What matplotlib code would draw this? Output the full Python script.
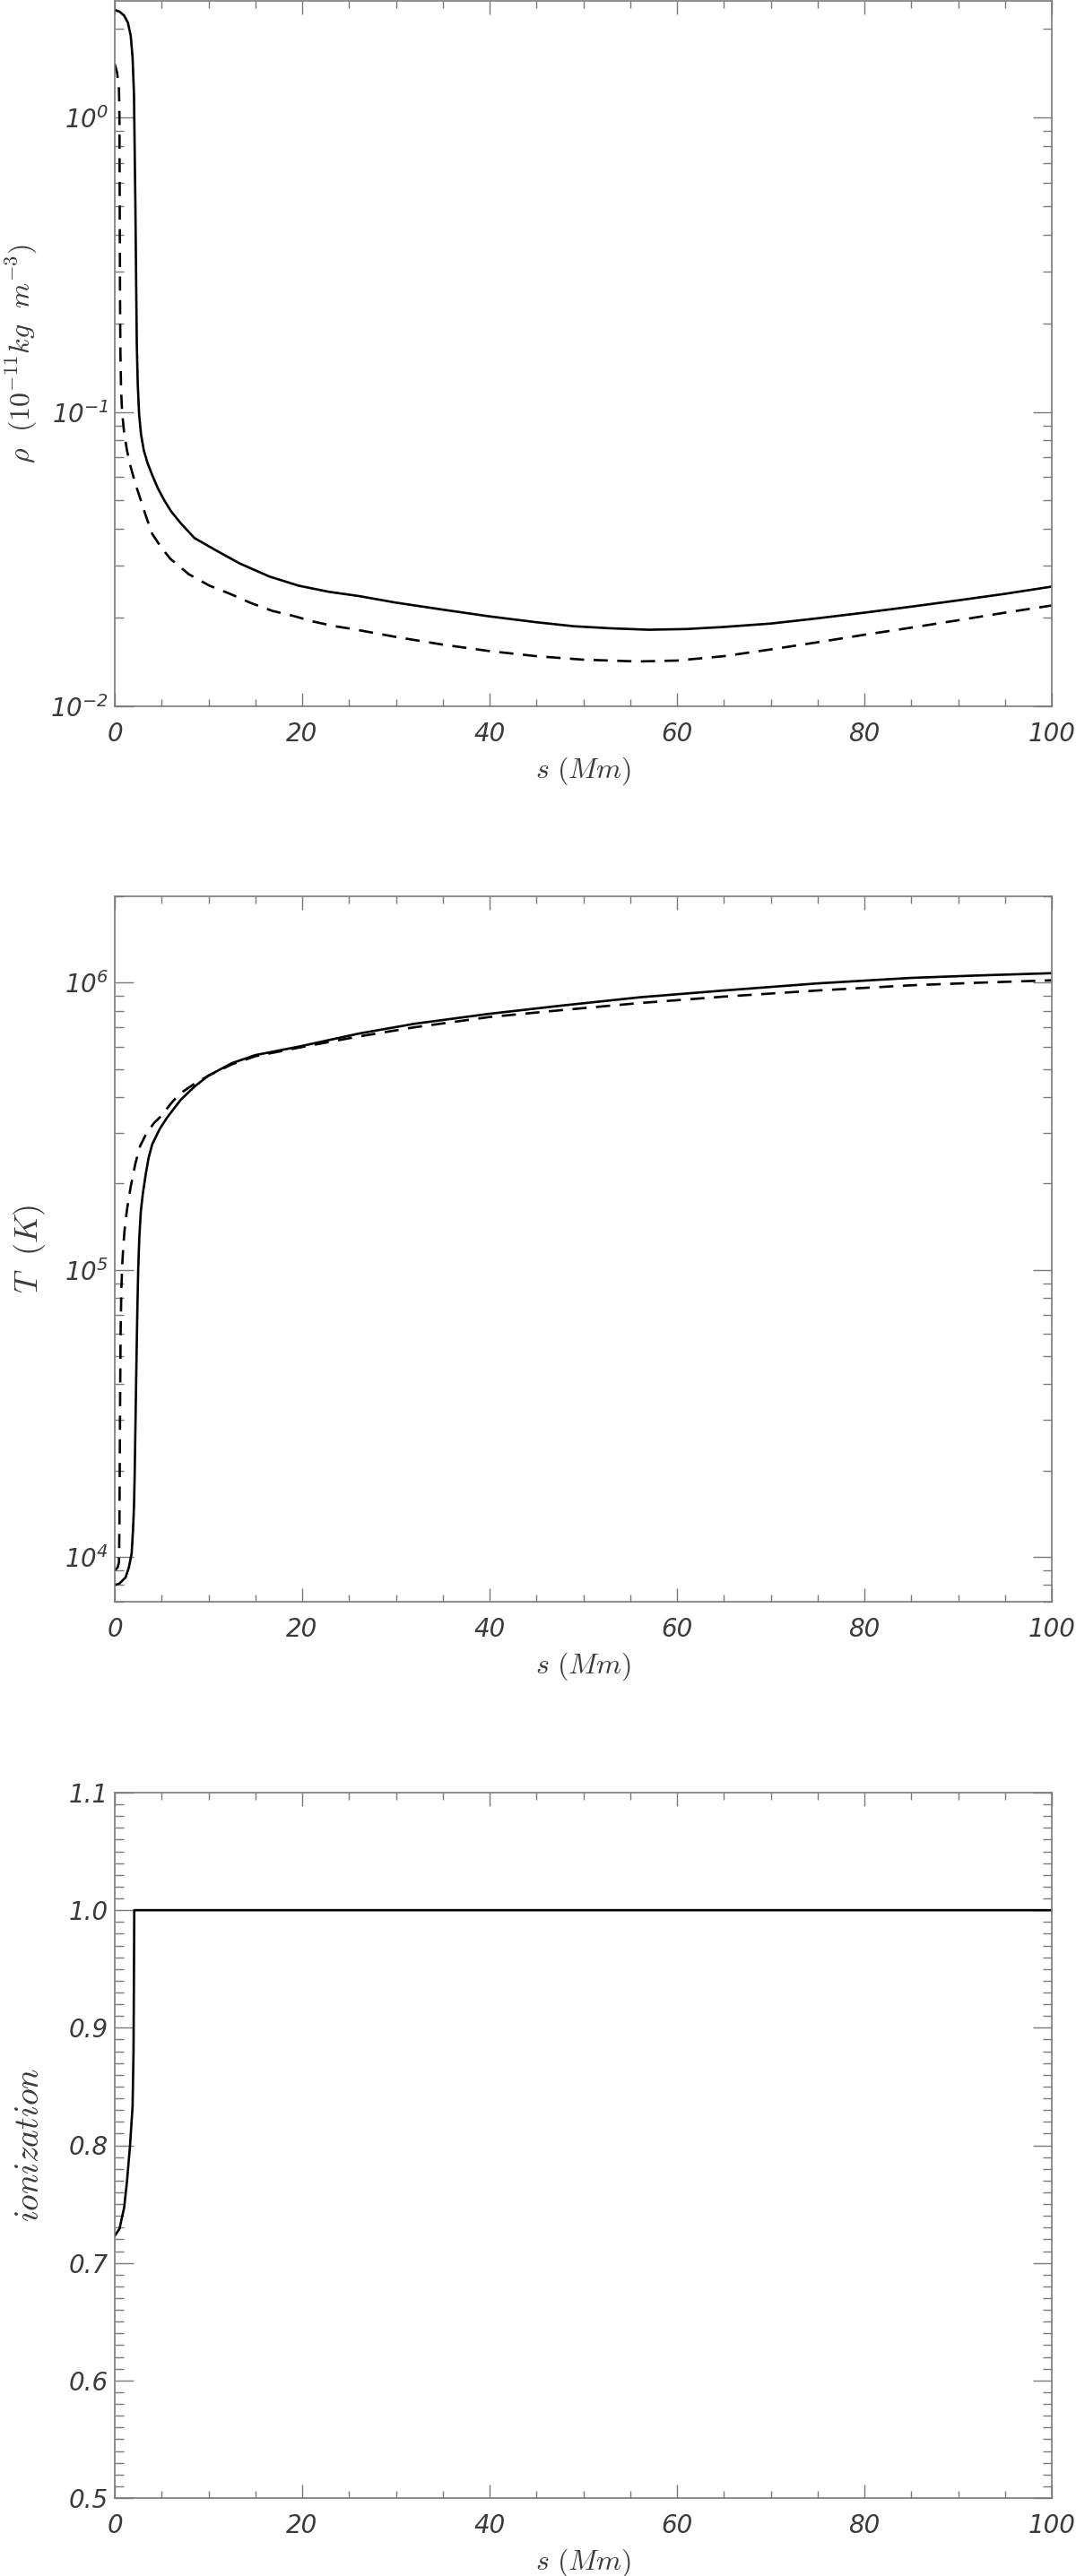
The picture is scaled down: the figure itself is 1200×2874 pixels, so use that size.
import matplotlib
matplotlib.use("Agg")
import matplotlib.pyplot as plt
from matplotlib.ticker import MultipleLocator, LogLocator, NullFormatter, FixedLocator

TICK_FONT = 'DejaVu Sans'
plt.rcParams['mathtext.fontset'] = 'custom'
plt.rcParams['mathtext.rm'] = 'DejaVu Sans:italic'
plt.rcParams['mathtext.it'] = 'DejaVu Sans:italic'
plt.rcParams['mathtext.default'] = 'it'

# ---------------- data ----------------
# density (1e-11 kg m^-3), solid
s_rho_solid = [0, 0.5, 1.0, 1.4, 1.7, 1.9, 2.05, 2.12, 2.2, 2.27, 2.35, 2.45, 2.6, 2.8, 3.1,
               3.5, 4.0, 4.6, 5.3, 6.0, 7.0, 8.5, 10.7, 13.3, 16.5, 19.6, 22.8, 26, 30, 35,
               40, 45, 49, 53, 57, 61, 65, 70, 75, 80, 85, 90, 95, 100]
rho_solid = [2.32, 2.29, 2.22, 2.1, 1.9, 1.6, 1.2, 0.8, 0.5, 0.3, 0.17, 0.125, 0.098, 0.084,
             0.074, 0.067, 0.061, 0.055, 0.050, 0.046, 0.042, 0.0373, 0.034, 0.0306, 0.0276,
             0.0257, 0.0245, 0.0237, 0.0225, 0.0213, 0.0202, 0.0193, 0.0187, 0.0184, 0.0182,
             0.0183, 0.0186, 0.0191, 0.0199, 0.0208, 0.0218, 0.0229, 0.0241, 0.0255]
# density, dashed
s_rho_dashed = [0, 0.25, 0.45, 0.5, 0.53, 0.56, 0.6, 0.67, 0.78, 1.0, 1.3, 1.7, 2.2, 2.7,
                3.3, 4.0, 5.0, 5.93, 7.9, 10.1, 12.3, 14.5, 16.8, 19.0, 21.2, 23.3, 25.4, 30,
                35, 40, 45, 50, 55.8, 60, 65, 70, 75, 80, 85, 90, 95, 100]
rho_dashed = [1.52, 1.42, 1.25, 1.0, 0.5, 0.25, 0.16, 0.12, 0.1, 0.085, 0.074, 0.065, 0.057,
              0.051, 0.0445, 0.0385, 0.0345, 0.0317, 0.0281, 0.0257, 0.0241, 0.02245, 0.0211,
              0.0203, 0.0194, 0.01875, 0.0183, 0.0172, 0.0162, 0.0154, 0.0148, 0.0144, 0.0142,
              0.0143, 0.0148, 0.0156, 0.0165, 0.0175, 0.0185, 0.0196, 0.0208, 0.0220]

# temperature (K), solid
s_T_solid = [0, 0.5, 1.15, 1.5, 1.8, 1.95, 2.05, 2.12, 2.2, 2.3, 2.4, 2.5, 2.62, 2.78, 3.0,
             3.3, 3.6, 4.0, 4.8, 5.6, 7, 8.5, 10, 12.5, 15, 19.7, 26, 32, 40, 48, 56, 65, 75,
             85, 92, 100]
T_solid = [8.0e3, 8.1e3, 8.5e3, 9.2e3, 1.03e4, 1.25e4, 1.5e4, 1.9e4, 2.8e4, 4.5e4, 7e4,
           1.0e5, 1.3e5, 1.6e5, 1.85e5, 2.15e5, 2.45e5, 2.74e5, 3.1e5, 3.4e5, 3.9e5, 4.35e5,
           4.75e5, 5.25e5, 5.6e5, 6.0e5, 6.65e5, 7.2e5, 7.8e5, 8.35e5, 8.9e5, 9.4e5, 9.95e5,
           1.04e6, 1.06e6, 1.08e6]
# temperature, dashed
s_T_dashed = [0, 0.3, 0.45, 0.5, 0.53, 0.57, 0.62, 0.7, 0.8, 0.92, 1.05, 1.3, 1.7, 2.2, 2.7,
              3.4, 4.2, 5.0, 6.0, 6.9, 8.5, 10, 12.5, 15, 19.7, 26, 32, 40, 48, 56, 65, 75,
              85, 92, 100]
T_dashed = [9.0e3, 9.2e3, 9.6e3, 1.3e4, 2.0e4, 3.5e4, 6e4, 8.5e4, 1.05e5, 1.22e5, 1.38e5,
            1.62e5, 1.95e5, 2.35e5, 2.7e5, 3.0e5, 3.25e5, 3.45e5, 3.8e5, 4.1e5, 4.45e5,
            4.75e5, 5.2e5, 5.55e5, 5.95e5, 6.5e5, 7.0e5, 7.6e5, 8.05e5, 8.5e5, 8.95e5, 9.4e5,
            9.8e5, 1.0e6, 1.02e6]

# ionization
s_ion = [0, 0.5, 1.0, 1.3, 1.63, 1.9, 2.0, 2.05, 2.08, 100]
ion = [0.723, 0.729, 0.747, 0.769, 0.80, 0.833, 0.88, 0.95, 1.0, 1.0]

x_major = [0, 20, 40, 60, 80, 100]
x_labels = ['0', '20', '40', '60', '80', '100']
ion_ticks = [0.5, 0.6, 0.7, 0.8, 0.9, 1.0, 1.1]
ion_labels = ['0.5', '0.6', '0.7', '0.8', '0.9', '1.0', '1.1']

# ---------------- figure ----------------
W, H = 1200, 2874
fig = plt.figure(figsize=(W / 100, H / 100), dpi=100)

left = 128 / W
width = (1173 - 128) / W
ax_h = 787 / H
tops = [1, 1000, 2000]
axes = [fig.add_axes([left, 1 - (t + 787) / H, width, ax_h]) for t in tops]

frame_c = '#7a7a7a'
text_c = '#3a3a3a'
lw = 1.9
dash = (6, 4)

for ax in axes:
    for sp in ax.spines.values():
        sp.set_color(frame_c)
        sp.set_linewidth(1.2)
    ax.set_xlim(0, 100)
    ax.set_xticks(x_major)
    ax.set_xticklabels(x_labels, fontstyle='italic', family=TICK_FONT)
    ax.xaxis.set_minor_locator(MultipleLocator(5))
    ax.tick_params(which='both', direction='in', top=True, right=True, color=frame_c,
                   width=1.0, labelcolor=text_c)
    ax.tick_params(axis='x', which='major', length=11, pad=12, labelsize=20)
    ax.tick_params(axis='x', which='minor', length=5.8)
    ax.tick_params(axis='y', which='major', length=15, pad=5, labelsize=20)
    ax.tick_params(axis='y', which='minor', length=7.2)
    ax.set_xlabel(r'$s\ (Mm)$', fontsize=23, math_fontfamily='cm', va='center', color=text_c)
    ax.xaxis.set_label_coords(0.5, -72 / 787)

# panel 1: density
ax = axes[0]
ax.plot(s_rho_solid, rho_solid, color='black', lw=lw)
ax.plot(s_rho_dashed, rho_dashed, color='black', lw=lw, dashes=dash)
ax.set_yscale('log')
ax.set_ylim(0.01, 2.49)
ax.yaxis.set_major_locator(FixedLocator([1e-2, 1e-1, 1e0]))
ax.set_yticklabels([r'$10^{-2}$', r'$10^{-1}$', r'$10^{0}$'])
ax.yaxis.set_minor_locator(LogLocator(base=10, subs=[2, 3, 4, 5, 6, 7, 8, 9], numticks=20))
ax.yaxis.set_minor_formatter(NullFormatter())
ax.set_ylabel(r'$\rho\ \ (10^{-11}kg\ \ m^{-3})$', fontsize=23, math_fontfamily='cm',
              va='center', color=text_c)
ax.yaxis.set_label_coords(-(128 - 24) / 1045, 0.5)

# panel 2: temperature
ax = axes[1]
ax.plot(s_T_solid, T_solid, color='black', lw=lw)
ax.plot(s_T_dashed, T_dashed, color='black', lw=lw, dashes=dash)
ax.set_yscale('log')
ax.set_ylim(7e3, 2e6)
ax.yaxis.set_major_locator(FixedLocator([1e4, 1e5, 1e6]))
ax.set_yticklabels([r'$10^{4}$', r'$10^{5}$', r'$10^{6}$'])
ax.yaxis.set_minor_locator(LogLocator(base=10, subs=[2, 3, 4, 5, 6, 7, 8, 9], numticks=20))
ax.yaxis.set_minor_formatter(NullFormatter())
ax.set_ylabel(r'$T\ \ (K)$', fontsize=26, math_fontfamily='cm', va='center', color=text_c)
ax.yaxis.set_label_coords(-(128 - 33) / 1045, 0.5)

# panel 3: ionization
ax = axes[2]
ax.plot(s_ion, ion, color='black', lw=lw)
ax.set_ylim(0.5, 1.1)
ax.set_yticks(ion_ticks)
ax.set_yticklabels(ion_labels, fontstyle='italic', family=TICK_FONT)
ax.yaxis.set_minor_locator(MultipleLocator(0.01))
ax.set_ylabel(r'$ionization$', fontsize=27, math_fontfamily='cm', va='center', color=text_c)
ax.yaxis.set_label_coords(-(128 - 33) / 1045, 0.5)

fig.savefig('out.png', dpi=100, facecolor='white')
